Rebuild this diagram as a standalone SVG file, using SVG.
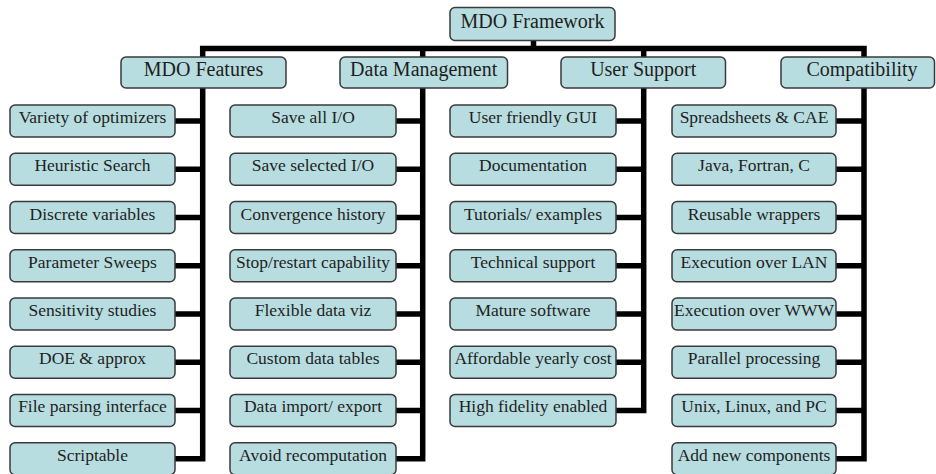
<svg xmlns="http://www.w3.org/2000/svg" width="936" height="474" viewBox="0 0 936 474">
<style>
.b{fill:#b8dde0;stroke:#3a3a3a;stroke-width:1.5}
.t{font-family:'Liberation Serif','Times New Roman','DejaVu Serif',serif;fill:#1e1e1e;text-anchor:middle}
.l1{font-size:20px}
.l3{font-size:17.5px}
.c{fill:none;stroke:#000;stroke-width:5.5;stroke-linejoin:miter;stroke-linecap:butt}
</style>
<rect width="936" height="474" fill="#fff"/>
<g id="connectors">
<path class="c" d="M533.5,40 V48.5"/>
<path class="c" d="M202.7,58 V48.5 H864 V58"/>
<path class="c" d="M422.7,48.5 V58"/>
<path class="c" d="M643.7,48.5 V58"/>
<path class="c" d="M202.7,88 V458.7 H175"/>
<path class="c" d="M175,121 H202.7 M175,169.3 H202.7 M175,217.5 H202.7 M175,265.7 H202.7 M175,314 H202.7 M175,362.2 H202.7 M175,410.4 H202.7"/>
<path class="c" d="M422.7,88 V458.7 H395.5"/>
<path class="c" d="M395.5,121 H422.7 M395.5,169.3 H422.7 M395.5,217.5 H422.7 M395.5,265.7 H422.7 M395.5,314 H422.7 M395.5,362.2 H422.7 M395.5,410.4 H422.7"/>
<path class="c" d="M643.7,88 V410.4 H615.5"/>
<path class="c" d="M615.5,121 H643.7 M615.5,169.3 H643.7 M615.5,217.5 H643.7 M615.5,265.7 H643.7 M615.5,314 H643.7 M615.5,362.2 H643.7"/>
<path class="c" d="M864,88 V458.7 H836"/>
<path class="c" d="M836,121 H864 M836,169.3 H864 M836,217.5 H864 M836,265.7 H864 M836,314 H864 M836,362.2 H864 M836,410.4 H864"/>
</g>
<g id="mdo-framework"><rect class="b" x="450" y="7.5" width="165" height="33" rx="5"/><text class="t l1" x="532.5" y="27.5">MDO Framework</text></g>
<g id="mdo-features"><rect class="b" x="121" y="57" width="165" height="31" rx="5"/><text class="t l1" x="203.5" y="76">MDO Features</text></g>
<g id="data-management"><rect class="b" x="340" y="57" width="167.5" height="31" rx="5"/><text class="t l1" x="423.7" y="76">Data Management</text></g>
<g id="user-support"><rect class="b" x="561" y="57" width="164.5" height="31" rx="5"/><text class="t l1" x="643.2" y="76">User Support</text></g>
<g id="compatibility"><rect class="b" x="781" y="57" width="153.5" height="31" rx="5"/><text class="t l1" x="862" y="76">Compatibility</text></g>

<g id="c1-1"><rect class="b" x="10" y="105" width="165" height="32" rx="5"/><text class="t l3" x="92.5" y="123">Variety of optimizers</text></g>
<g id="c1-2"><rect class="b" x="10" y="153.3" width="165" height="32" rx="5"/><text class="t l3" x="92.5" y="171.3">Heuristic Search</text></g>
<g id="c1-3"><rect class="b" x="10" y="201.5" width="165" height="32" rx="5"/><text class="t l3" x="92.5" y="219.5">Discrete variables</text></g>
<g id="c1-4"><rect class="b" x="10" y="249.7" width="165" height="32" rx="5"/><text class="t l3" x="92.5" y="267.7">Parameter Sweeps</text></g>
<g id="c1-5"><rect class="b" x="10" y="298" width="165" height="32" rx="5"/><text class="t l3" x="92.5" y="316">Sensitivity studies</text></g>
<g id="c1-6"><rect class="b" x="10" y="346.2" width="165" height="32" rx="5"/><text class="t l3" x="92.5" y="364.2">DOE &amp; approx</text></g>
<g id="c1-7"><rect class="b" x="10" y="394.4" width="165" height="32" rx="5"/><text class="t l3" x="92.5" y="412.4">File parsing interface</text></g>
<g id="c1-8"><rect class="b" x="10" y="442.7" width="165" height="32" rx="5"/><text class="t l3" x="92.5" y="460.7">Scriptable</text></g>

<g id="c2-1"><rect class="b" x="230" y="105" width="166" height="32" rx="5"/><text class="t l3" x="313" y="123">Save all I/O</text></g>
<g id="c2-2"><rect class="b" x="230" y="153.3" width="166" height="32" rx="5"/><text class="t l3" x="313" y="171.3">Save selected I/O</text></g>
<g id="c2-3"><rect class="b" x="230" y="201.5" width="166" height="32" rx="5"/><text class="t l3" x="313" y="219.5">Convergence history</text></g>
<g id="c2-4"><rect class="b" x="230" y="249.7" width="166" height="32" rx="5"/><text class="t l3" x="313" y="267.7">Stop/restart capability</text></g>
<g id="c2-5"><rect class="b" x="230" y="298" width="166" height="32" rx="5"/><text class="t l3" x="313" y="316">Flexible data viz</text></g>
<g id="c2-6"><rect class="b" x="230" y="346.2" width="166" height="32" rx="5"/><text class="t l3" x="313" y="364.2">Custom data tables</text></g>
<g id="c2-7"><rect class="b" x="230" y="394.4" width="166" height="32" rx="5"/><text class="t l3" x="313" y="412.4">Data import/ export</text></g>
<g id="c2-8"><rect class="b" x="230" y="442.7" width="166" height="32" rx="5"/><text class="t l3" x="313" y="460.7">Avoid recomputation</text></g>

<g id="c3-1"><rect class="b" x="450" y="105" width="166" height="32" rx="5"/><text class="t l3" x="533" y="123">User friendly GUI</text></g>
<g id="c3-2"><rect class="b" x="450" y="153.3" width="166" height="32" rx="5"/><text class="t l3" x="533" y="171.3">Documentation</text></g>
<g id="c3-3"><rect class="b" x="450" y="201.5" width="166" height="32" rx="5"/><text class="t l3" x="533" y="219.5">Tutorials/ examples</text></g>
<g id="c3-4"><rect class="b" x="450" y="249.7" width="166" height="32" rx="5"/><text class="t l3" x="533" y="267.7">Technical support</text></g>
<g id="c3-5"><rect class="b" x="450" y="298" width="166" height="32" rx="5"/><text class="t l3" x="533" y="316">Mature software</text></g>
<g id="c3-6"><rect class="b" x="450" y="346.2" width="166" height="32" rx="5"/><text class="t l3" x="533" y="364.2">Affordable yearly cost</text></g>
<g id="c3-7"><rect class="b" x="450" y="394.4" width="166" height="32" rx="5"/><text class="t l3" x="533" y="412.4">High fidelity enabled</text></g>

<g id="c4-1"><rect class="b" x="672" y="105" width="164" height="32" rx="5"/><text class="t l3" x="754" y="123">Spreadsheets &amp; CAE</text></g>
<g id="c4-2"><rect class="b" x="672" y="153.3" width="164" height="32" rx="5"/><text class="t l3" x="754" y="171.3">Java, Fortran, C</text></g>
<g id="c4-3"><rect class="b" x="672" y="201.5" width="164" height="32" rx="5"/><text class="t l3" x="754" y="219.5">Reusable wrappers</text></g>
<g id="c4-4"><rect class="b" x="672" y="249.7" width="164" height="32" rx="5"/><text class="t l3" x="754" y="267.7">Execution over LAN</text></g>
<g id="c4-5"><rect class="b" x="672" y="298" width="164" height="32" rx="5"/><text class="t l3" x="754" y="316">Execution over WWW</text></g>
<g id="c4-6"><rect class="b" x="672" y="346.2" width="164" height="32" rx="5"/><text class="t l3" x="754" y="364.2">Parallel processing</text></g>
<g id="c4-7"><rect class="b" x="672" y="394.4" width="164" height="32" rx="5"/><text class="t l3" x="754" y="412.4">Unix, Linux, and PC</text></g>
<g id="c4-8"><rect class="b" x="672" y="442.7" width="164" height="32" rx="5"/><text class="t l3" x="754" y="460.7">Add new components</text></g>
</svg>
